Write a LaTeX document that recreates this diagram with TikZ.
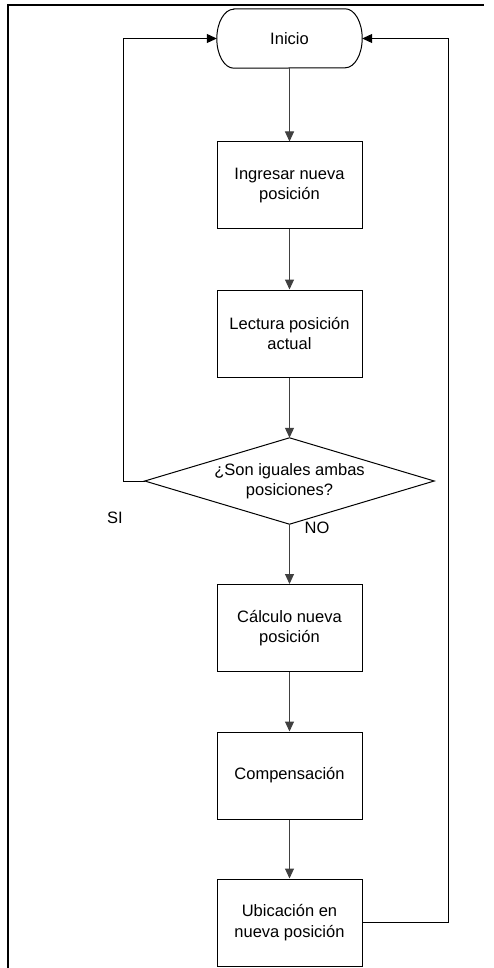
\documentclass[tikz,border=0pt]{standalone}
\usepackage{fontspec}
\setmainfont{Liberation Sans}
\usetikzlibrary{arrows.meta}
\begin{document}
\begin{tikzpicture}[x=1pt,y=-1pt,
  every node/.style={font=\fontsize{16.5}{20.5}\selectfont, inner sep=0pt},
  stepbox/.style={draw=black, line width=1pt, minimum width=145pt, minimum height=87pt, align=center},
  flow/.style={draw=black!75, line width=1pt, -{Triangle[width=9pt,length=10pt]}},
  loop/.style={draw=black, line width=1pt, -{Triangle[width=9pt,length=10pt]}},
  frameline/.style={line width=2pt, black}]
\useasboundingbox (0,0) rectangle (493,968);

% page frame (top and left edges)
\draw[frameline] (8,968) -- (8,5.5) -- (484,5.5);

% terminal
\node[minimum width=145pt, minimum height=59pt] (inicio) at (289.5,38.5) {Inicio};
\draw[line width=1pt] ([xshift=17pt]inicio.north west) -- ([xshift=-17pt]inicio.north east)
  arc[start angle=90, end angle=-90, x radius=17pt, y radius=29.5pt]
  -- ([xshift=17pt]inicio.south west)
  arc[start angle=270, end angle=90, x radius=17pt, y radius=29.5pt] -- cycle;

% process steps
\node[stepbox] (ingresar) at (289.5,185.5) {Ingresar nueva\\posición};
\node[stepbox] (lectura) at (289.5,333.5) {Lectura posición\\actual};

% decision
\node[minimum width=289pt, minimum height=86pt, align=center] (iguales) at (289.5,481) {¿Son iguales ambas\\posiciones?};
\draw[line width=1pt] (iguales.north) -- (iguales.east) -- (iguales.south) -- (iguales.west) -- cycle;

\node[stepbox] (calculo) at (289.5,628) {Cálculo nueva\\posición};
\node[stepbox] (compensacion) at (289.5,775.5) {Compensación};
\node[stepbox] (ubicacion) at (289.5,922.5) {Ubicación en\\nueva posición};

% branch labels
\node (si) at (115,518) {SI};
\node (no) at (317,528) {NO};

% main flow
\draw[flow] (inicio) -- (ingresar);
\draw[flow] (ingresar) -- (lectura);
\draw[flow] (lectura) -- (iguales.north);
\draw[flow] (iguales.south) -- (calculo);
\draw[flow] (calculo) -- (compensacion);
\draw[flow] (compensacion) -- (ubicacion);

% return paths
\coordinate (lc) at (123,38.5);
\coordinate (rc) at (448,38.5);
\draw[loop] (iguales.west) -| (lc) -- (inicio.west);
\draw[loop] (ubicacion.east) -| (rc) -- (inicio.east);
\end{tikzpicture}
\end{document}
